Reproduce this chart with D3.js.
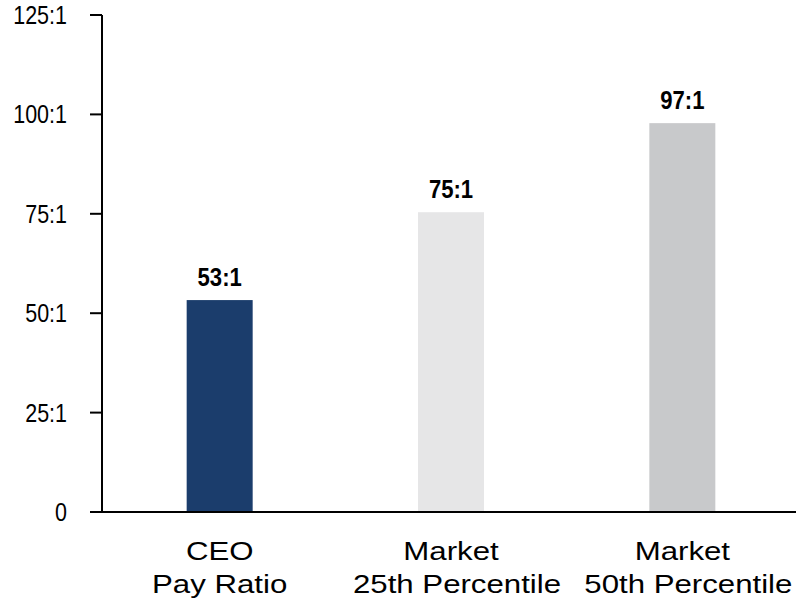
<!DOCTYPE html>
<html>
<head>
<meta charset="utf-8">
<script src="https://cdn.jsdelivr.net/npm/d3@7"></script>
<style>
  body { margin: 0; background: #fff; }
  text { font-family: "Liberation Sans", Arial, sans-serif; fill: #000; }
</style>
</head>
<body>
<div id="chart"></div>
<script>
// data
let categories = [["CEO", "Pay Ratio"], ["Market", "25th Percentile"], ["Market", "50th Percentile"]];
let values = [53.3, 75.4, 97.8];
let valueLabels = ["53:1", "75:1", "97:1"];
let barColors = ["#1b3d6c", "#e6e6e7", "#c8c9cb"];
let tickValues = [0, 25, 50, 75, 100, 125];
let tickLabels = ["0", "25:1", "50:1", "75:1", "100:1", "125:1"];

let width = 803, height = 613;

let svg = d3.select("#chart")
    .append("svg")
    .attr("width", width)
    .attr("height", height);

let x = d3.scaleBand()
    .domain(d3.range(categories.length))
    .range([104, 798]);

let y = d3.scaleLinear()
    .domain([0, 125])
    .range([512, 15]);

let barW = 66;

// bars
svg.selectAll("rect.bar")
    .data(values)
    .enter()
    .append("rect")
    .attr("class", "bar")
    .attr("x", (d, i) => x(i) + x.bandwidth() / 2 - barW / 2)
    .attr("width", barW)
    .attr("y", d => y(d))
    .attr("height", d => y(0) - y(d))
    .attr("fill", (d, i) => barColors[i]);

// value labels
svg.selectAll("text.val")
    .data(values)
    .enter()
    .append("text")
    .attr("class", "val")
    .attr("transform", (d, i) => "translate(" + (x(i) + x.bandwidth() / 2) + "," + (y(d) - 14) + ") scale(0.85,1)")
    .attr("text-anchor", "middle")
    .style("font-size", "26px")
    .style("font-weight", "bold")
    .text((d, i) => valueLabels[i]);

// y axis
let yAxis = svg.append("g");
yAxis.append("line")
    .attr("x1", 102).attr("x2", 102)
    .attr("y1", y(125)).attr("y2", y(0))
    .attr("stroke", "#000").attr("stroke-width", 2);

yAxis.selectAll("line.tick")
    .data(tickValues)
    .enter()
    .append("line")
    .attr("class", "tick")
    .attr("x1", 90).attr("x2", 102)
    .attr("y1", d => y(d)).attr("y2", d => y(d))
    .attr("stroke", "#000").attr("stroke-width", 2);

yAxis.selectAll("text.tick")
    .data(tickValues)
    .enter()
    .append("text")
    .attr("class", "tick")
    .attr("transform", d => "translate(67," + (y(d) + 9) + ") scale(0.86,1)")
    .attr("text-anchor", "end")
    .style("font-size", "25px")
    .text((d, i) => tickLabels[i]);

// x axis
svg.append("line")
    .attr("x1", 90).attr("x2", 796)
    .attr("y1", y(0)).attr("y2", y(0))
    .attr("stroke", "#000").attr("stroke-width", 2);

let cat = svg.selectAll("g.cat")
    .data(categories)
    .enter()
    .append("g")
    .attr("class", "cat")
    .attr("transform", (d, i) => "translate(" + (x(i) + x.bandwidth() / 2) + ",0) scale(1.2,1)");

cat.selectAll("text")
    .data(d => d)
    .enter()
    .append("text")
    .attr("y", (d, j) => 560 + j * 33)
    .attr("dx", (d, j) => (j === 1 && d.indexOf("Percentile") >= 0) ? 5 : 0)
    .attr("text-anchor", "middle")
    .style("font-size", "26px")
    .text(d => d);
</script>
</body>
</html>
